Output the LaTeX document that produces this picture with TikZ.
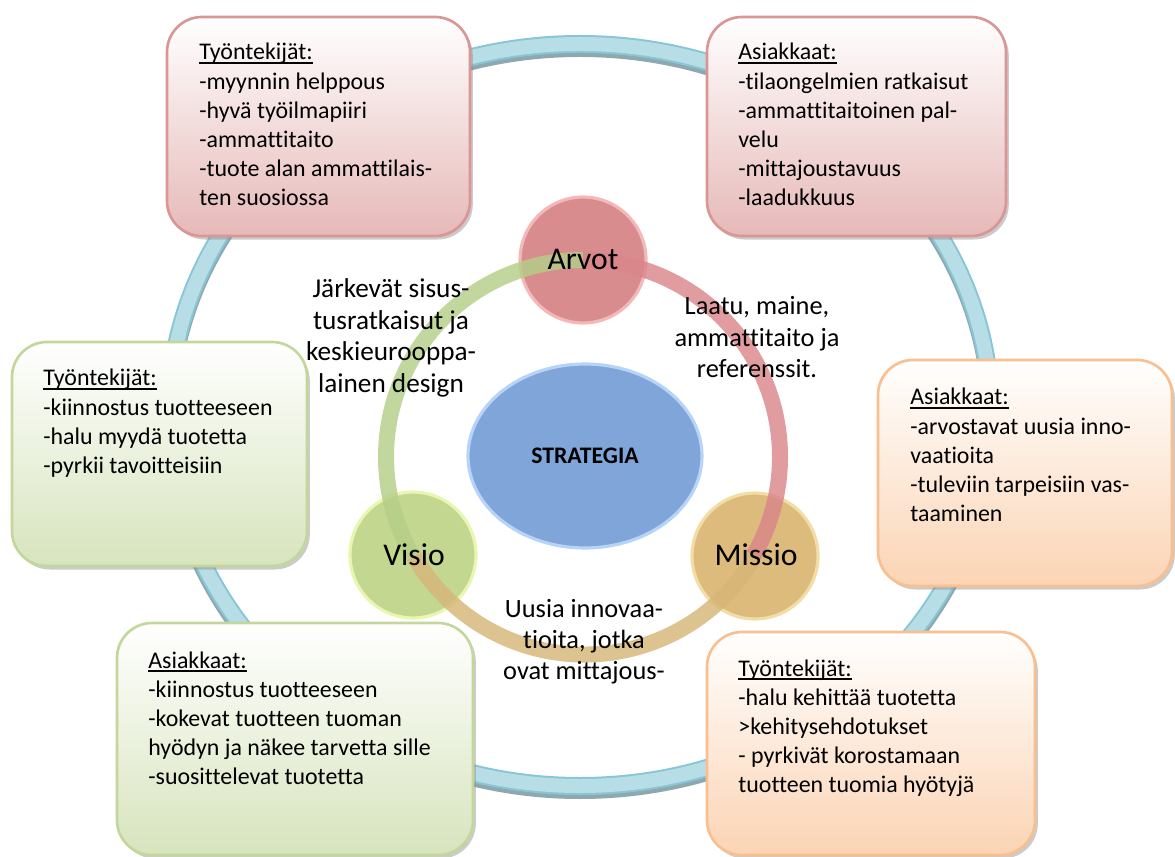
\documentclass[tikz,border=0pt]{standalone}
\usepackage{fontspec}
\setmainfont{Carlito}[Ligatures=NoCommon]
\usetikzlibrary{calc,fit,shadows,shapes.geometric}

\definecolor{ringfill}{HTML}{B7DDE7}
\definecolor{ringedge}{HTML}{88C6D6}
\definecolor{ringshade}{HTML}{8FA8B0}
\definecolor{redfill}{HTML}{E6B9B8}
\definecolor{redline}{HTML}{D99694}
\definecolor{greenfill}{HTML}{D7E4BD}
\definecolor{greenline}{HTML}{C3D69B}
\definecolor{orangefill}{HTML}{FBD4B4}
\definecolor{orangeline}{HTML}{F9BF8F}
\definecolor{arvotc}{HTML}{D98C8E}
\definecolor{arvotglow}{HTML}{F4B8B8}
\definecolor{visioc}{HTML}{C3D791}
\definecolor{visioglow}{HTML}{E8F7B0}
\definecolor{missioc}{HTML}{DDBB7C}
\definecolor{missioglow}{HTML}{F3DDA6}
\definecolor{stratc}{HTML}{80A5D8}
\definecolor{stratglow}{HTML}{B7D3F7}
\definecolor{arcgreen}{HTML}{B5CE88}
\definecolor{arcred}{HTML}{D9868A}
\definecolor{arctan}{HTML}{D6B678}

% underline that keeps close to the baseline
\newsavebox\ulbx
\newcommand\ulin[1]{\sbox\ulbx{#1}\rlap{\rule[-2pt]{\wd\ulbx}{0.9pt}}\usebox\ulbx}
\newcommand\lefttab[1]{\begin{tabular}[t]{@{}l@{}}#1\end{tabular}}
\newcommand\centtab[1]{\begin{tabular}[t]{@{}c@{}}#1\end{tabular}}

\tikzset{
  panel/.style={rectangle, rounded corners=0.7cm, inner sep=0pt, line width=1.5pt,
    drop shadow={shadow xshift=1.6pt, shadow yshift=-2pt, fill=black!45, opacity=0.45}},
  redpanel/.style={panel, draw=redline, top color=white, bottom color=redfill},
  greenpanel/.style={panel, draw=greenline, top color=white, bottom color=greenfill},
  orangepanel/.style={panel, draw=orangeline, top color=white, bottom color=orangefill},
  paneltext/.style={inner sep=0pt, anchor=base west,
    font=\fontsize{13.6}{16.55}\selectfont},
  midtext/.style={inner sep=0pt, anchor=base,
    font=\fontsize{15}{17.86}\selectfont},
  dot/.style={circle, minimum size=2.52cm, inner sep=0pt, line width=1.8pt},
  dotlabel/.style={inner sep=0pt, anchor=base, font=\fontsize{18}{20}\selectfont},
  band/.style={line width=0.32cm, opacity=0.82},
}

\begin{document}
\begin{tikzpicture}[x=0.02cm, y=-0.02cm]
\useasboundingbox (0,0) rectangle (1175,857);

% outer ring
\coordinate (oc) at (580,415);
\draw[ringshade, line width=0.36cm] ($(oc)+(0,4)$) ellipse [x radius=411, y radius=371];
\draw[ringedge, line width=0.36cm] (oc) ellipse [x radius=411, y radius=371];
\draw[ringfill, line width=0.28cm] (oc) ellipse [x radius=411, y radius=371];

% panels
\node[redpanel, fit={(167,17) (470,236)}] (p1) {};
\node[redpanel, fit={(707,17) (1006,236)}] (p2) {};
\node[greenpanel, fit={(12,342) (307,566)}] (p3) {};
\node[orangepanel, fit={(878,360) (1172,586)}] (p4) {};
\node[greenpanel, fit={(117,623) (473,855)}] (p5) {};
\node[orangepanel, fit={(707,632) (1035,855)}] (p6) {};

\node[paneltext] (t1) at (199,60) {\lefttab{\ulin{Työntekijät:}\\-myynnin helppous\\-hyvä työilmapiiri\\-ammattitaito\\-tuote alan ammattilais-\\ten suosiossa}};
\node[paneltext] (t2) at (738,60) {\lefttab{\ulin{Asiakkaat:}\\-tilaongelmien ratkaisut\\-ammattitaitoinen pal-\\velu\\-mittajoustavuus\\-laadukkuus}};
\node[paneltext] (t3) at (43,386) {\lefttab{\ulin{Työntekijät:}\\-kiinnostus tuotteeseen\\-halu myydä tuotetta\\-pyrkii tavoitteisiin}};
\node[paneltext] (t4) at (910,405) {\lefttab{\ulin{Asiakkaat:}\\-arvostavat uusia inno-\\vaatioita\\-tuleviin tarpeisiin vas-\\taaminen}};
\node[paneltext] (t5) at (148,668) {\lefttab{\ulin{Asiakkaat:}\\-kiinnostus tuotteeseen\\-kokevat tuotteen tuoman\\hyödyn ja näkee tarvetta sille\\-suosittelevat tuotetta}};
\node[paneltext] (t6) at (738,676) {\lefttab{\ulin{Työntekijät:}\\-halu kehittää tuotetta\\>kehitysehdotukset\\- pyrkivät korostamaan\\tuotteen tuomia hyötyjä}};

% strategy core
\node[ellipse, minimum width=4.68cm, minimum height=3.68cm, inner sep=0pt,
      fill=stratc, draw=stratglow, line width=1.8pt,
      font=\bfseries\fontsize{13.5}{16}\selectfont] (strat) at (585,456) {STRATEGIA};

% value circles
\node[dot, fill=arvotc, draw=arvotglow] (arvot) at (583,260) {};
\node[dot, fill=visioc, draw=visioglow] (visio) at (413,555) {};
\node[dot, fill=missioc, draw=missioglow] (missio) at (755,556) {};

% inner ring, one arc between each pair of circles
\draw[band, arcgreen] (arvot.center) arc[start angle=-90, end angle=-210, radius=197];
\draw[band, arcred] (arvot.center) arc[start angle=-90, end angle=30, radius=197];
\draw[band, arctan] (missio.center) arc[start angle=30, end angle=150, radius=197];

\node[dotlabel] (arvotl) at (583,270) {Arvot};
\node[dotlabel] (visiol) at (414,565) {Visio};
\node[dotlabel] (missiol) at (756,565) {Missio};

% texts along the inner ring
\node[midtext, font=\fontsize{15.5}{17.86}\selectfont] (m1) at (391,298) {\centtab{Järkevät sisus-\\tusratkaisut ja\\keskieurooppa-\\lainen design}};
\node[midtext] (m2) at (757,315) {\centtab{Laatu, maine,\\ammattitaito ja\\referenssit.}};
\node[midtext] (m3) at (584,617) {\centtab{Uusia innovaa-\\tioita, jotka\\ovat mittajous-}};
\end{tikzpicture}
\end{document}
